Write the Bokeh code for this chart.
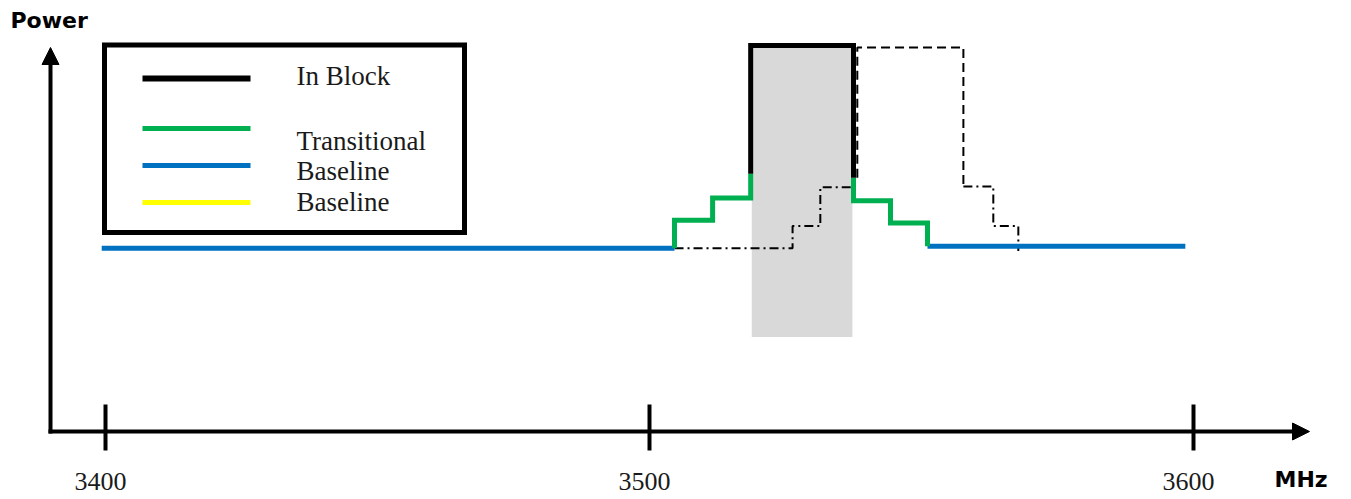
from bokeh.plotting import figure
from bokeh.models import Range1d, Arrow, NormalHead
from bokeh.core.properties import value
from bokeh.embed import file_html
from bokeh.resources import INLINE

# ---------------- data (MHz, relative power units) ----------------
tick_values = [3400, 3500, 3600]
tick_labels = ["3400", "3500", "3600"]

baseline_left_x = [3399.3, 3504.6]
baseline_left_y = [19.0, 19.0]
baseline_right_x = [3551.1, 3598.5]
baseline_right_y = [19.2, 19.2]

trans_left_x = [3504.6, 3504.6, 3511.6, 3511.6, 3518.6, 3518.6]
trans_left_y = [19.0, 21.9, 21.9, 24.2, 24.2, 26.7]
trans_right_x = [3537.5, 3537.5, 3544.3, 3544.3, 3551.1, 3551.1]
trans_right_y = [26.3, 23.9, 23.9, 21.6, 21.6, 19.2]

inblock_x = [3518.6, 3518.6, 3537.5, 3537.5]
inblock_y = [26.7, 40.0, 40.0, 26.3]

block_left, block_right = 3518.8, 3537.3
block_bottom, block_top = 9.8, 40.0

shift_dash_x = [3538.2, 3538.2, 3557.7, 3557.7]
shift_dash_y = [26.3, 39.8, 39.8, 25.4]
shift_dashdot_x = [3557.7, 3563.2, 3563.2, 3567.8, 3567.8]
shift_dashdot_y = [25.4, 25.4, 21.3, 21.3, 18.7]
lower_dashdot_x = [3504.6, 3526.3, 3526.3, 3531.4, 3531.4, 3537.5]
lower_dashdot_y = [19.0, 19.0, 21.3, 21.3, 25.3, 25.3]

legend_labels = ["In Block", "Transitional", "Baseline", "Baseline"]
legend_colors = ["#000000", "#00b050", "#0070c0", "#ffff00"]

# ---------------- layout helpers (reference pixel -> data) ----------------
W, H = 1351, 499
PX_PER_MHZ = 5.44
PX_PER_UNIT = 9.65
X0_PX, Y0_PX = 105, 431  # where 3400 MHz / zero power sit (page pixels)
TXT = -8  # text vertical correction (px)


def px2x(X):
    return 3400 + (X - X0_PX) / PX_PER_MHZ


def px2y(Y):
    return (Y0_PX - Y) / PX_PER_UNIT


def ty(Y):
    return px2y(Y + TXT)


p = figure(width=W, height=H, output_backend="svg", toolbar_location=None,
           x_range=Range1d(px2x(0), px2x(W)),
           y_range=Range1d(px2y(H), px2y(0)),
           x_axis_location=None, y_axis_location=None,
           min_border=0, min_border_left=0, min_border_right=0,
           min_border_top=0, min_border_bottom=0)
p.outline_line_color = None
p.xgrid.visible = False
p.ygrid.visible = False
p.background_fill_color = "white"
p.border_fill_color = "white"

serif = value("Liberation Serif")
sans = value("DejaVu Sans")

# block shading
p.quad(left=[block_left], right=[block_right], bottom=[block_bottom], top=[block_top],
       fill_color="#d9d9d9", line_color=None)

# shifted / lower masks
p.line(shift_dash_x, shift_dash_y, line_color="black", line_width=2, line_dash="9 5")
p.line(shift_dashdot_x, shift_dashdot_y, line_color="black", line_width=2, line_dash="9 4 2 4")
p.line(lower_dashdot_x, lower_dashdot_y, line_color="black", line_width=2, line_dash="9 4 2 4")

# baseline
p.line(baseline_left_x, baseline_left_y, line_color="#0070c0", line_width=5)
p.line(baseline_right_x, baseline_right_y, line_color="#0070c0", line_width=5)
# transitional
p.line(trans_left_x, trans_left_y, line_color="#00b050", line_width=5, line_join="miter")
p.line(trans_right_x, trans_right_y, line_color="#00b050", line_width=5, line_join="miter")
# in block
p.line(inblock_x, inblock_y, line_color="black", line_width=5, line_join="miter")

# axes with arrows
p.add_layout(Arrow(end=NormalHead(size=17, fill_color="black", line_color="black"),
                   x_start=px2x(48), y_start=0, x_end=px2x(1309), y_end=0,
                   line_width=4, line_color="black"))
p.add_layout(Arrow(end=NormalHead(size=17, fill_color="black", line_color="black"),
                   x_start=px2x(50), y_start=px2y(433), x_end=px2x(50), y_end=px2y(47),
                   line_width=4, line_color="black"))

# ticks
p.segment(x0=tick_values, y0=[px2y(404)] * 3, x1=tick_values, y1=[px2y(450)] * 3,
          line_color="black", line_width=4)
p.text(x=tick_values, y=[ty(489)] * 3, text=tick_labels, text_font=serif,
       text_font_size="26px", text_align="center", text_baseline="alphabetic",
       x_offset=-5, text_color="#1a1a1a")

# axis titles
p.text(x=[px2x(10)], y=[ty(28)], text=["Power"], text_font=sans,
       text_font_size="22px", text_font_style="bold", text_baseline="alphabetic")
p.text(x=[px2x(1274)], y=[ty(487)], text=["MHz"], text_font=sans,
       text_font_size="22px", text_font_style="bold", text_baseline="alphabetic")

# legend box (drawn by hand to follow the original spacing)
p.quad(left=[px2x(104)], right=[px2x(464)], top=[px2y(44.5)], bottom=[px2y(232)],
       fill_color="white", line_color="black", line_width=5, line_join="miter")
line_px = [78, 128, 165, 202]
text_px = [83, 148, 178, 209]
p.segment(x0=[px2x(142)] * 4, x1=[px2x(250)] * 4, y0=[px2y(v) for v in line_px],
          y1=[px2y(v) for v in line_px], line_color=legend_colors,
          line_width=[6, 5, 5, 5])
p.text(x=[px2x(296)] * 4, y=[ty(v) for v in text_px], text=legend_labels,
       text_font=serif, text_font_size="27px", text_baseline="alphabetic",
       text_color="#1a1a1a")

open("out.html", "w").write(file_html(p, INLINE))
